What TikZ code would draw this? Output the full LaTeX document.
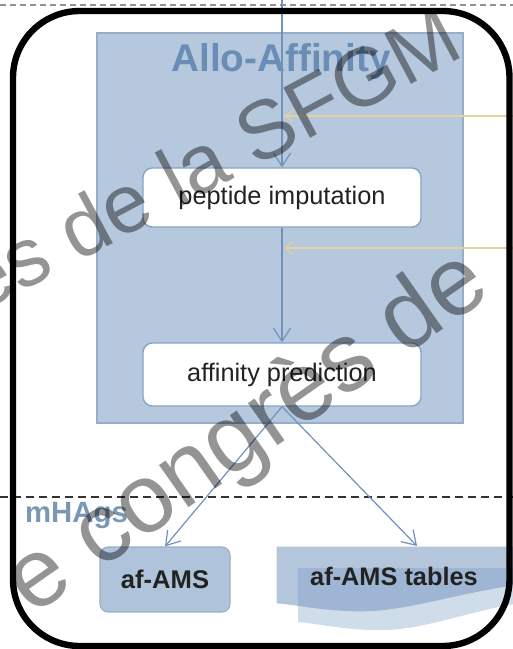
\documentclass[tikz,border=0pt]{standalone}
\usepackage{fontspec}
\setmainfont{Liberation Sans}
\usetikzlibrary{arrows.meta}

\definecolor{boxfill}{HTML}{B5C8DD}
\definecolor{boxline}{HTML}{98AEC8}
\definecolor{flowblue}{HTML}{6F93BA}
\definecolor{titleblue}{HTML}{6A8DB5}
\definecolor{laneblue}{HTML}{7A97B5}
\definecolor{feedtan}{HTML}{E2D29C}
\definecolor{amsfill}{HTML}{AFC3DA}
\definecolor{tabback}{HTML}{B3C6DC}
\definecolor{tabfront}{HTML}{789BC3}
\definecolor{inktext}{HTML}{222222}

\tikzset{
  group/.style={draw=boxline, line width=1.1pt, fill=boxfill,
    minimum width=274.5pt, minimum height=292.5pt, inner sep=0pt},
  stepbox/.style={draw=flowblue!85, line width=1pt, fill=white,
    rounded corners=7pt, minimum width=208.5pt, inner sep=0pt,
    text=inktext, font=\fontsize{19}{22}\selectfont},
  amsbox/.style={draw=boxline, line width=0.8pt, fill=amsfill,
    rounded corners=6pt, minimum width=97.5pt, minimum height=48.75pt,
    inner sep=0pt, text=inktext, font=\fontsize{19.2}{22}\selectfont\bfseries},
  flow/.style={draw=flowblue, line width=0.9pt,
    -{Straight Barb[length=10pt,width=13pt]}},
  feed/.style={draw=feedtan, line width=0.9pt,
    -{Straight Barb[length=6pt,width=9pt]}},
  wm/.style={text=black, text opacity=0.42, inner sep=0pt},
}

\begin{document}
\begin{tikzpicture}[x=0.75pt,y=-0.75pt]
\useasboundingbox (0,0) rectangle (513,649);
\fill[white] (0,0) rectangle (513,649);

% upper lane border
\draw[gray!85, line width=1.8pt, dash pattern=on 4.5pt off 3pt] (0,5) -- (513,5);

% Allo-Affinity group
\node[group] (allo) at (280,228) {};
\node[anchor=base, text=titleblue, font=\fontsize{29}{30}\selectfont\bfseries]
  (allot) at (281,72) {Allo-Affinity};

% incoming inputs from the right
\coordinate (in1) at (513,116);
\coordinate (in1end) at (284,116);
\coordinate (in2) at (513,248);
\coordinate (in2end) at (284,248);
\draw[feed] (in1) -- (in1end);
\draw[feed] (in2) -- (in2end);

% steps
\node[stepbox, minimum height=44.25pt] (pep) at (282,197.5) {peptide imputation};
\node[stepbox, minimum height=47.25pt] (aff) at (282,374.5) {affinity prediction};

\coordinate (topin) at (282,0);
\draw[flow] (topin) -- (pep.north);
\draw[flow] (pep.south) -- (aff.north);

% lower lane
\draw[black!80, line width=1.5pt, dash pattern=on 6pt off 3.75pt] (0,497) -- (513,497);
\node[anchor=base, text=laneblue, font=\fontsize{22}{24}\selectfont\bfseries]
  (lane) at (76.5,522) {mHAgs};

% outputs
\node[amsbox] (ams) at (165,579.5) {af-AMS};

\fill[tabback, draw=boxline!70, line width=0.5pt]
  (277,547) -- (520,547) -- (520,584)
  .. controls (450,594) and (405,612) .. (355,611)
  .. controls (320,610) and (300,605) .. (277,603) -- cycle;
\fill[tabfront, fill opacity=0.35]
  (298,568) -- (520,568) -- (520,603)
  .. controls (460,613) and (420,632) .. (372,630)
  .. controls (340,629) and (320,624) .. (298,622) -- cycle;
\node[anchor=base, text=inktext, font=\fontsize{19}{22}\selectfont\bfseries]
  (tab) at (394,585) {af-AMS tables};
\coordinate (tabtop) at (417,546);

\draw[flow] (aff.south) -- (ams.north);
\draw[flow] (aff.south) -- (tabtop);

% outer frame
\draw[line width=4.8pt, rounded corners=50pt] (13,11) rectangle (509.5,646);

% watermark
\node[wm, rotate=28, anchor=base east, font=\fontsize{62}{62}\selectfont]
  (wm1) at (467,55) {es de la SFGM};
\node[wm, rotate=35, anchor=base east, font=\fontsize{73}{73}\selectfont]
  (wm2) at (494,294) {e congrès de};
\end{tikzpicture}
\end{document}
